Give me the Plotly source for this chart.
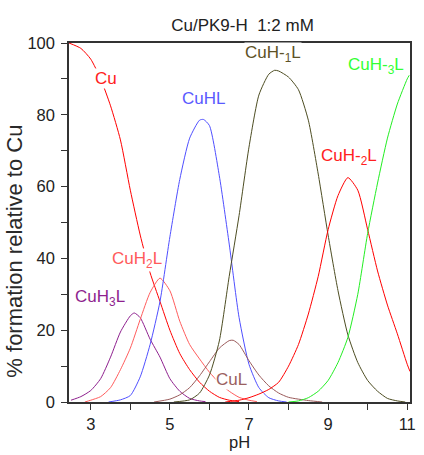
import plotly.graph_objects as go

# ---- data ----
ph_cu = [2.45, 2.75, 3.0, 3.25, 3.5, 3.75, 4.0, 4.25, 4.5, 4.75, 5.0, 5.25, 5.5, 5.75, 6.0, 6.25, 6.5, 6.75]
v_cu = [100, 98.5, 95.5, 90, 82.5, 73, 59, 46.5, 36, 28, 20, 13.5, 9, 5.5, 3, 1.3, 0.5, 0.1]

ph_cuh3l = [2.5, 2.75, 3.0, 3.25, 3.5, 3.75, 4.0, 4.1, 4.25, 4.5, 4.75, 5.0, 5.25, 5.5, 5.75, 5.9]
v_cuh3l = [0.5, 1.5, 3.2, 6.5, 12.5, 19.5, 24, 24.8, 23.5, 17.5, 12.5, 6.5, 3, 1, 0.3, 0.1]

ph_cuh2l = [2.85, 3.0, 3.25, 3.5, 3.75, 4.0, 4.25, 4.5, 4.75, 5.0, 5.25, 5.5, 5.75, 6.0, 6.25, 6.5, 6.75, 7.0, 7.2]
v_cuh2l = [0, 0.5, 1.5, 4, 9, 15, 23, 30.5, 34.5, 31, 22.5, 16, 12, 8.3, 5.3, 3, 1.3, 0.5, 0.1]

ph_cuhl = [3.45, 3.75, 4.0, 4.25, 4.5, 4.75, 5.0, 5.25, 5.5, 5.75, 5.85, 6.0, 6.25, 6.5, 6.75, 7.0, 7.25, 7.5, 7.75, 7.95]
v_cuhl = [0, 0.6, 1.8, 7, 16, 28, 46, 62, 73.5, 78.5, 78.7, 77, 63, 44, 23.5, 10.5, 4, 1.2, 0.3, 0]

ph_cul = [4.6, 5.0, 5.25, 5.5, 5.75, 6.0, 6.25, 6.5, 6.6, 6.75, 7.0, 7.25, 7.5, 7.75, 8.0, 8.5, 8.85]
v_cul = [0, 0.8, 2, 4, 7.3, 11.2, 15, 17.1, 17.2, 16, 11.5, 7.5, 4.5, 2.5, 1.3, 0.4, 0]

ph_cuhm1l = [5.1, 5.5, 5.75, 6.0, 6.25, 6.5, 6.75, 7.0, 7.25, 7.5, 7.65, 7.75, 8.0, 8.25, 8.5, 8.75, 9.0, 9.25, 9.5, 9.75, 10.0, 10.25, 10.5, 10.75, 10.95]
v_cuhm1l = [0, 0.6, 2.5, 7.5, 17, 35, 52, 71, 85.5, 91.3, 92.4, 92.2, 90.5, 87, 78.5, 63.5, 46.5, 31, 18.7, 11, 6, 3, 1, 0.3, 0]

ph_cuhm2l = [6.4, 6.75, 7.0, 7.25, 7.5, 7.75, 8.0, 8.25, 8.5, 8.75, 9.0, 9.25, 9.5, 9.75, 10.0, 10.25, 10.5, 10.75, 11.0, 11.07]
v_cuhm2l = [0, 0.5, 1.2, 2.2, 3.5, 5.5, 10, 16, 24.5, 35, 48, 57.5, 62.5, 59, 48, 36.5, 27, 19, 10.5, 8.5]

ph_cuhm3l = [8.0, 8.25, 8.5, 8.75, 9.0, 9.25, 9.5, 9.75, 10.0, 10.25, 10.5, 10.75, 11.0, 11.05]
v_cuhm3l = [0, 0.3, 1.2, 3, 6, 11, 18, 30, 47, 61, 73.5, 83, 90, 91]

x_ticks = [3, 4, 5, 6, 7, 8, 9, 10, 11]
x_ticktext = ["3", "", "5", "", "7", "", "9", "", "11"]
y_ticks = [0, 10, 20, 30, 40, 50, 60, 70, 80, 90, 100]
y_ticktext = ["0", "", "20", "", "40", "", "60", "", "80", "", "100"]

series = [
    (ph_cu, v_cu, "#ff0000"),
    (ph_cuh3l, v_cuh3l, "#8e1f8e"),
    (ph_cuh2l, v_cuh2l, "#ff5c5c"),
    (ph_cuhl, v_cuhl, "#4f4fff"),
    (ph_cul, v_cul, "#9a5a5a"),
    (ph_cuhm1l, v_cuhm1l, "#4d4d22"),
    (ph_cuhm2l, v_cuhm2l, "#ff0000"),
    (ph_cuhm3l, v_cuhm3l, "#22ee22"),
]

labels = [
    ("Cu", 3.39, 90.2, "#ff2020"),
    ("CuHL", 5.86, 84.6, "#5a5aff"),
    ("CuH-<sub>1</sub>L", 7.61, 96.9, "#5e5226"),
    ("CuH-<sub>3</sub>L", 10.22, 93.6, "#33ff33"),
    ("CuH-<sub>2</sub>L", 9.54, 68.2, "#ff2020"),
    ("CuH<sub>2</sub>L", 4.16, 39.6, "#ff5a5a"),
    ("CuH<sub>3</sub>L", 3.24, 29.1, "#8e1f8e"),
    ("CuL", 6.55, 6.3, "#9a6060"),
]

FONT = "Arial, Liberation Sans"

fig = go.Figure()
for xs, ys, col in series:
    fig.add_trace(go.Scatter(x=xs, y=ys, mode="lines",
                             line=dict(color=col, width=1.0, shape="spline", smoothing=0.6),
                             showlegend=False, hoverinfo="skip"))

for txt, x, y, col in labels:
    fig.add_annotation(x=x, y=y, text=txt, showarrow=False,
                       font=dict(family=FONT, size=17, color=col),
                       bgcolor="white", borderpad=0)

# y-axis title as a rotated annotation
fig.add_annotation(xref="paper", yref="paper", x=-0.16, y=0.42, xanchor="center", yanchor="middle",
                   text="% formation relative to Cu", textangle=-90, showarrow=False,
                   font=dict(family=FONT, size=22, color="#2a2a2a"))

axis_common = dict(showgrid=False, zeroline=False, showline=True, linecolor="#333333", linewidth=1.5,
                   mirror=True, ticks="outside", ticklen=6, tickwidth=1.2, tickcolor="#333333",
                   tickfont=dict(family=FONT, size=16.5, color="#222222"))

fig.update_xaxes(range=[2.45, 11.07], tickvals=x_ticks, ticktext=x_ticktext,
                 title=dict(text="pH", font=dict(family=FONT, size=16.5, color="#222222"), standoff=3),
                 **axis_common)
fig.update_yaxes(range=[0, 100], tickvals=y_ticks, ticktext=y_ticktext, ticklabelstandoff=3, **axis_common)

fig.update_layout(
    width=424, height=455,
    margin=dict(l=69, r=8, t=43, b=52),
    paper_bgcolor="white", plot_bgcolor="white",
    title=dict(text="Cu/PK9-H  1:2 mM", x=0.572, xanchor="center", y=0.945, yanchor="middle",
               font=dict(family=FONT, size=17, color="#222222")),
)

fig.write_html("out.html", config={"displayModeBar": False},
               post_script="document.body.style.margin='0';document.body.style.padding='0';")
